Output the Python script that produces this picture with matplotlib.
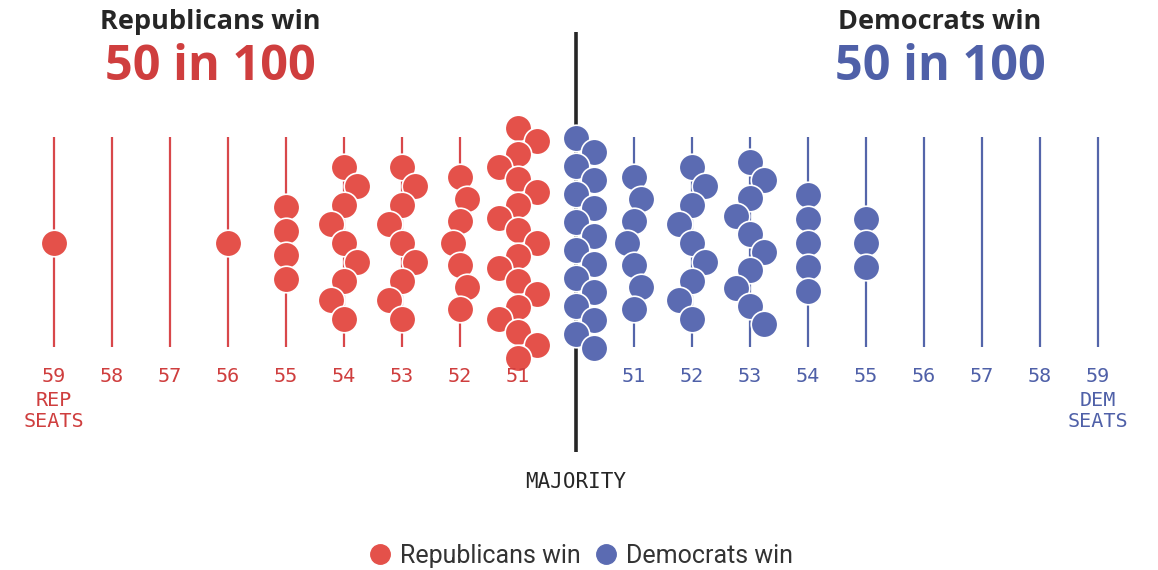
import matplotlib
matplotlib.use('Agg')
import matplotlib.pyplot as plt
from matplotlib.lines import Line2D
import numpy as np

# seats won by each party in the 100 simulations
rep_seats = [59, 58, 57, 56, 55, 54, 53, 52, 51]
rep_counts = [1, 0, 0, 1, 4, 9, 9, 7, 19]
dem_seats = [50, 51, 52, 53, 54, 55, 56, 57, 58, 59]
dem_counts = [16, 7, 9, 10, 5, 3, 0, 0, 0, 0]
rep_total, dem_total = 50, 50

RED_DOT = '#e4514a'
RED_LINE = '#d8474a'
RED_TXT = '#cf3e3e'
BLUE_DOT = '#5b6bb2'
BLUE_LINE = '#5465aa'
BLUE_TXT = '#4f60a8'
INK = '#262626'

W, H = 1158, 570
UNIT = 58.0      # pixels between seat columns
X0 = 576.0       # pixel x of the majority line
YC = 243.0       # vertical centre of the swarms
D = 23.0         # collision distance (dots overlap a touch)


def swarm(n, one_sided=False):
    """simple beeswarm: y spread by count, x offsets to avoid overlap (pixels)"""
    if n == 0:
        return []
    if n == 1:
        ys = [0.0]
    else:
        span = min(24 * (n - 1), 54 * np.sqrt(n - 1))
        ys = np.linspace(-span / 2, span / 2, n)
    placed = []
    side = 1
    for y in ys:
        cands = [0.0]
        for px, py in placed:
            dy = abs(py - y)
            if dy < D:
                dx = np.sqrt(D * D - dy * dy)
                cands += [px + dx, px - dx]
        if one_sided:
            cands = [c for c in cands if c >= -1e-9]
        ok = [c for c in cands
              if all((c - px) ** 2 + (y - py) ** 2 >= D * D - 1e-6 for px, py in placed)]
        best = min(ok, key=lambda c: (round(abs(c), 6), -c * side))
        if abs(best) > 1e-6:
            side = -side
        placed.append((best, y))
    return placed


fig = plt.figure(figsize=(W / 100, H / 100), dpi=100)
ax = fig.add_axes([0, 0, 1, 1])
ax.set_xlim(-X0 / UNIT, (W - X0) / UNIT)
ax.set_ylim(H, 0)
ax.axis('off')

mono = 'DejaVu Sans Mono'
TICK = 14.5
DOT = 365

# columns for the republican side
for s, n in zip(rep_seats, rep_counts):
    xc = -(s - 50)
    ax.plot([xc, xc], [137, 347], color=RED_LINE, lw=1.6, zorder=1, solid_capstyle='butt')
    pts = swarm(n)
    if pts:
        px = [xc + p[0] / UNIT for p in pts]
        py = [YC + p[1] for p in pts]
        ax.scatter(px, py, s=DOT, color=RED_DOT, edgecolor='white', linewidth=1.2, zorder=3)
    ax.text(xc, 377, str(s), color=RED_TXT, fontsize=TICK, family=mono,
            ha='center', va='center')

# columns for the democratic side (50 sits on the majority line)
for s, n in zip(dem_seats, dem_counts):
    xc = s - 50
    if s > 50:
        ax.plot([xc, xc], [137, 347], color=BLUE_LINE, lw=1.6, zorder=1, solid_capstyle='butt')
        ax.text(xc, 377, str(s), color=BLUE_TXT, fontsize=TICK, family=mono,
                ha='center', va='center')
    pts = swarm(n, one_sided=(s == 50))
    if pts:
        px = [xc + p[0] / UNIT for p in pts]
        py = [YC + p[1] for p in pts]
        ax.scatter(px, py, s=DOT, color=BLUE_DOT, edgecolor='white', linewidth=1.2, zorder=3)

# majority line
ax.plot([0, 0], [32, 452], color=INK, lw=2.6, zorder=2, solid_capstyle='butt')
ax.text(0, 482, 'MAJORITY', color=INK, fontsize=15, family=mono, ha='center', va='center')

ax.text(-(rep_seats[0] - 50), 411, 'REP\nSEATS', color=RED_TXT, fontsize=TICK, family=mono,
        ha='center', va='center', linespacing=1.15)
ax.text(dem_seats[-1] - 50, 411, 'DEM\nSEATS', color=BLUE_TXT, fontsize=TICK, family=mono,
        ha='center', va='center', linespacing=1.15)

# headlines
HEAD = 'Open Sans'
ax.text(-(X0 - 210) / UNIT, 22, 'Republicans win', color=INK, fontsize=19.5,
        family=HEAD, weight='bold', ha='center', va='center')
ax.text(-(X0 - 210) / UNIT, 67, f'{rep_total} in 100', color=RED_TXT, fontsize=35,
        family=HEAD, weight='bold', ha='center', va='center')
ax.text((940 - X0) / UNIT, 22, 'Democrats win', color=INK, fontsize=19.5,
        family=HEAD, weight='bold', ha='center', va='center')
ax.text((940 - X0) / UNIT, 67, f'{dem_total} in 100', color=BLUE_TXT, fontsize=35,
        family=HEAD, weight='bold', ha='center', va='center')

# legend
handles = [Line2D([], [], marker='o', ls='', ms=14, color=RED_DOT, label='Republicans win'),
           Line2D([], [], marker='o', ls='', ms=14, color=BLUE_DOT, label='Democrats win')]
leg = fig.legend(handles=handles, loc='center', bbox_to_anchor=(580 / W, 1 - 556 / H), ncol=2,
                 frameon=False, handletextpad=0.3, columnspacing=0.5, handlelength=1.0,
                 prop={'family': 'Roboto', 'size': 18})
for t in leg.get_texts():
    t.set_color('#333333')

fig.savefig('out.png', dpi=100)
